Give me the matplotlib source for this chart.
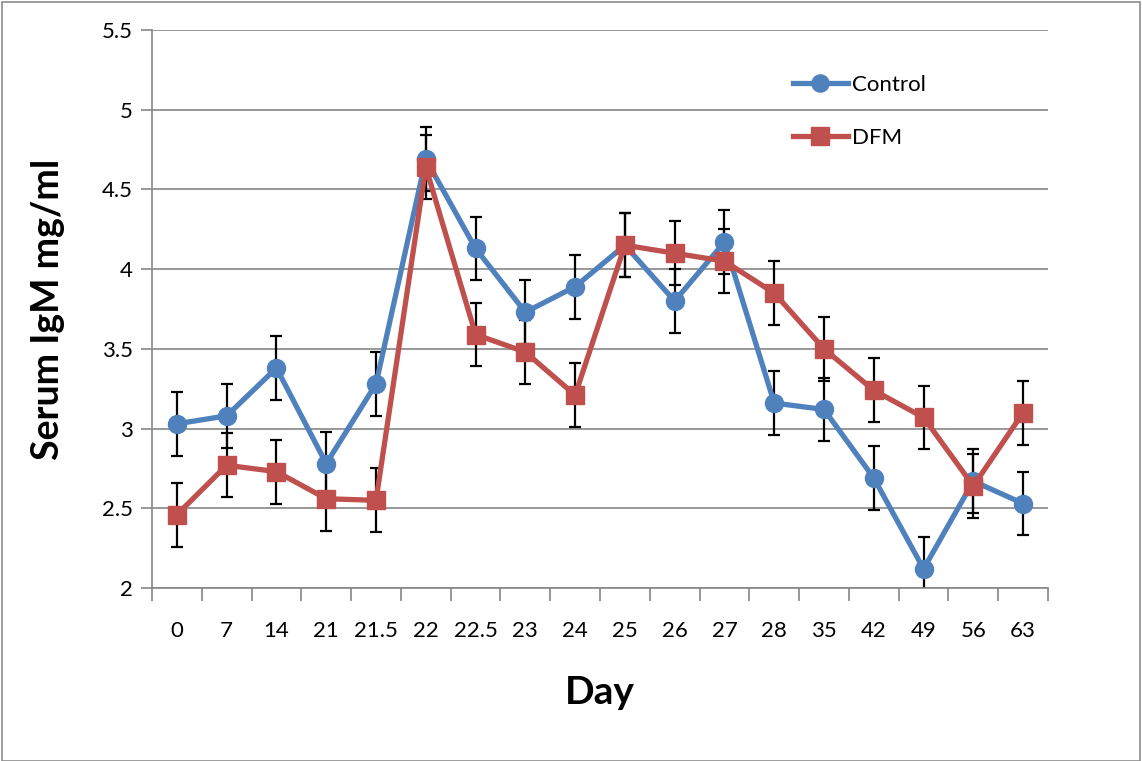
import numpy as np
import matplotlib.pyplot as plt
from matplotlib.patches import Rectangle

# serum IgM (mg/ml) by sampling day
days = ['0', '7', '14', '21', '21.5', '22', '22.5', '23', '24', '25', '26', '27',
        '28', '35', '42', '49', '56', '63']
control = [3.03, 3.08, 3.38, 2.78, 3.28, 4.69, 4.13, 3.73, 3.89, 4.15, 3.80, 4.17,
           3.16, 3.12, 2.69, 2.12, 2.67, 2.53]
dfm = [2.46, 2.77, 2.73, 2.56, 2.55, 4.64, 3.59, 3.48, 3.21, 4.15, 4.10, 4.05,
       3.85, 3.50, 3.24, 3.07, 2.64, 3.10]
control_err = [0.2] * len(days)
dfm_err = [0.2] * len(days)

plt.rcParams['font.family'] = ['Lato', 'DejaVu Sans']

fig = plt.figure(figsize=(11.42, 7.61), dpi=100)
fig.patches.append(Rectangle((2 / 1142, 0), 1138 / 1142, 759 / 761, transform=fig.transFigure,
                             fill=False, edgecolor='#8c8c8c', linewidth=1.2))
ax = fig.add_axes([0.1331, 0.2273, 0.7846, 0.7333])

x = np.arange(len(days))
gridc = '#868686'

ax.errorbar(x, control, yerr=control_err, fmt='none', ecolor='black', elinewidth=1.6,
            capsize=4.5, capthick=1.6, zorder=2)
ax.errorbar(x, dfm, yerr=dfm_err, fmt='none', ecolor='black', elinewidth=1.6,
            capsize=4.5, capthick=1.6, zorder=2)
ax.plot(x, control, '-o', color='#4F81BD', lw=3.8, markersize=13, label='Control', zorder=3)
ax.plot(x, dfm, '-s', color='#C0504D', lw=3.8, markersize=13, label='DFM', zorder=4)

ax.set_xlim(-0.5, len(days) - 0.5)
ax.set_ylim(2, 5.5)
ax.set_yticks(np.arange(2, 5.51, 0.5))
ax.set_yticklabels(['2', '2.5', '3', '3.5', '4', '4.5', '5', '5.5'])
ax.yaxis.grid(True, color=gridc, linewidth=1.2)
ax.set_axisbelow(True)

ax.set_xticks(x)
ax.set_xticklabels(days)
ax.set_xticks(np.arange(-0.5, len(days), 1), minor=True)
ax.tick_params(axis='x', which='major', length=0, labelsize=16, pad=24)
ax.tick_params(axis='x', which='minor', length=9, color=gridc, width=1.2, direction='out')
ax.tick_params(axis='y', length=8, color=gridc, width=1.2, labelsize=16, pad=6)

for s in ['top', 'right']:
    ax.spines[s].set_visible(False)
for s in ['left', 'bottom']:
    ax.spines[s].set_color(gridc)
    ax.spines[s].set_linewidth(1.2)

ax.set_xlabel('Day', fontsize=28, fontweight='bold', labelpad=24)
ax.set_ylabel('Serum IgM mg/ml', fontsize=27, fontweight='bold', labelpad=26)

ax.legend(loc='upper left', bbox_to_anchor=(0.715, 0.92), frameon=False, fontsize=16,
          borderpad=0, borderaxespad=0, handlelength=2.5, handletextpad=0.15,
          labelspacing=1.5, markerscale=0.95)

fig.savefig('out.png', dpi=100)
